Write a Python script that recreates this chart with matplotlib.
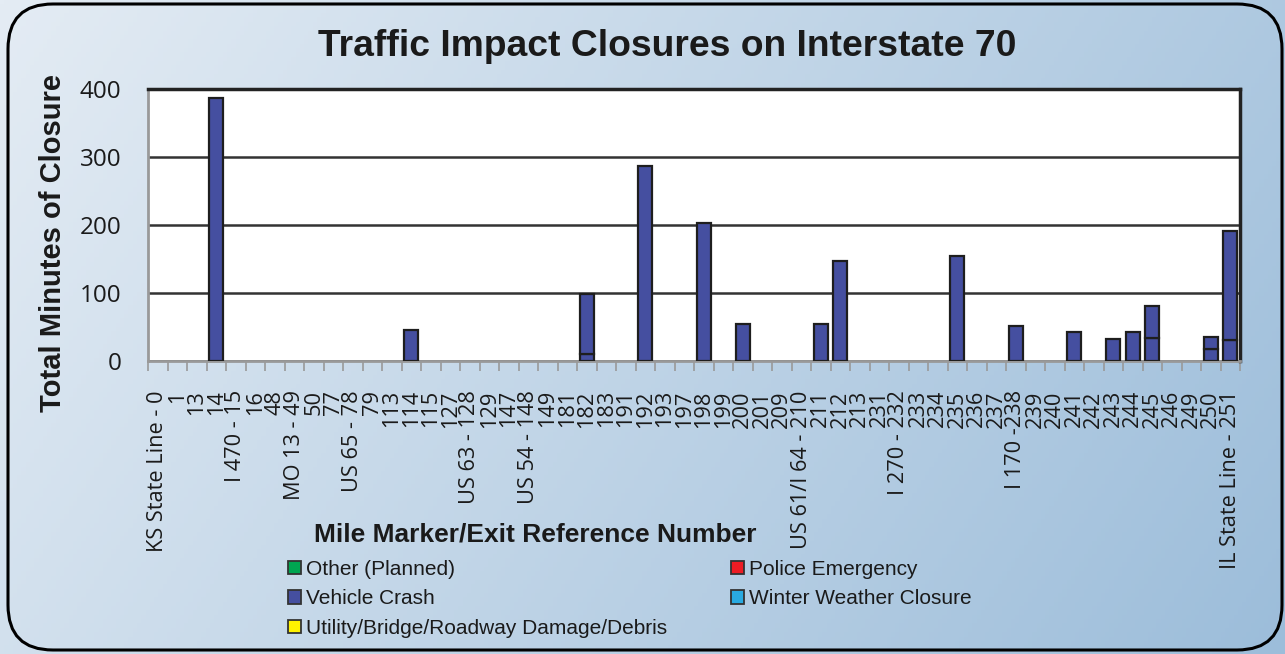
import numpy as np
import matplotlib
matplotlib.use("Agg")
import matplotlib.pyplot as plt
from matplotlib.patches import FancyBboxPatch, Patch

# ---------------- data ----------------
categories = ["KS State Line - 0", "1", "13", "14", "I 470 - 15", "16", "48", "MO 13 - 49", "50", "77",
              "US 65 - 78", "79", "113", "114", "115", "127", "US 63 - 128", "129", "147", "US 54 - 148",
              "149", "181", "182", "183", "191", "192", "193", "197", "198", "199",
              "200", "201", "209", "US 61/I 64 - 210", "211", "212", "213", "231", "I 270 - 232", "233",
              "234", "235", "236", "237", "I 170 -238", "239", "240", "241", "242", "243",
              "244", "245", "246", "249", "250", "IL State Line - 251"]

n = len(categories)
crash_lower = [0] * n
crash_upper = [0] * n
crash_values = {"14": 387, "114": 45, "182": 10, "192": 287, "198": 203, "200": 54,
                "211": 54, "212": 147, "235": 154, "I 170 -238": 52, "241": 42, "243": 33,
                "244": 43, "245": 34, "250": 18, "IL State Line - 251": 31}
crash_extra = {"182": 88, "245": 47, "250": 17, "IL State Line - 251": 160}
for k, v in crash_values.items():
    crash_lower[categories.index(k)] = v
for k, v in crash_extra.items():
    crash_upper[categories.index(k)] = v

other_planned = [0] * n
police_emergency = [0] * n
winter_weather = [0] * n
utility_damage = [0] * n

series_names = ["Other (Planned)", "Vehicle Crash", "Utility/Bridge/Roadway Damage/Debris",
                "Police Emergency", "Winter Weather Closure"]
series_colors = ["#00a651", "#454fa0", "#fff200", "#ed1c24", "#29aae1"]
y_ticks = [0, 100, 200, 300, 400]

# ---------------- figure ----------------
W, H = 1285, 654
fig = plt.figure(figsize=(W / 100, H / 100), dpi=100)
fig.patch.set_facecolor("white")

# gradient background
bg = fig.add_axes([0, 0, 1, 1], zorder=-10)
gx = np.linspace(0, 1, 300)
gy = np.linspace(0, 1, 150)
X, Y = np.meshgrid(gx, gy)
t = np.clip(0.75 * X + 0.25 * Y, 0, 1)
c0 = np.array([0xe4, 0xec, 0xf4]) / 255
c1 = np.array([0x9c, 0xbd, 0xda]) / 255
img = c0[None, None, :] * (1 - t[..., None]) + c1[None, None, :] * t[..., None]
bg.imshow(img, extent=[0, 1, 0, 1], aspect="auto", origin="upper")
bg.set_xlim(0, 1)
bg.set_ylim(0, 1)
bg.axis("off")
frame = FancyBboxPatch((8 / W, 4 / H), (1282 - 8) / W, (650 - 4) / H,
                       boxstyle="round,pad=0,rounding_size=0.035", transform=bg.transAxes,
                       fill=False, edgecolor="black", linewidth=2.2, zorder=5,
                       mutation_aspect=W / H)
bg.add_patch(frame)

# plot axes
left, right, top, bottom = 148, 1240, 89, 361
ax = fig.add_axes([left / W, 1 - bottom / H, (right - left) / W, (bottom - top) / H])
ax.set_facecolor("white")
x = np.arange(n)
bw = 0.7

def draw(vals, base, color):
    vals = np.array(vals, dtype=float)
    base = np.array(base, dtype=float)
    m = vals > 0
    if m.any():
        ax.bar(x[m], vals[m], bottom=base[m], width=bw, color=color,
               edgecolor="#1e1e1e", linewidth=1.6, zorder=3)

zero = np.zeros(n)
draw(other_planned, zero, series_colors[0])
draw(crash_lower, zero, series_colors[1])
draw(crash_upper, np.array(crash_lower), series_colors[1])
draw(utility_damage, zero, series_colors[2])
draw(police_emergency, zero, series_colors[3])
draw(winter_weather, zero, series_colors[4])

ax.set_xlim(-0.5, n - 0.5)
ax.set_ylim(0, 400)
ax.set_yticks(y_ticks)
ax.yaxis.grid(True, color="#333333", linewidth=1.8, zorder=0)
ax.set_axisbelow(True)
ax.set_xticks(x)
ax.set_xticklabels(categories, rotation=90, fontsize=15.7, family="Open Sans", color="#1a1a1a")
ax.set_xticks(np.arange(n + 1) - 0.5, minor=True)
ax.tick_params(axis="x", which="major", length=0, pad=21)
ax.tick_params(axis="x", which="minor", length=7, color="#999999", width=1.2)
ax.tick_params(axis="y", length=0, pad=19, labelsize=17.5, labelcolor="#1a1a1a")
for lab in ax.get_yticklabels():
    lab.set_family("Open Sans")
for s in ["top", "right"]:
    ax.spines[s].set_color("#222222")
    ax.spines[s].set_linewidth(2.5)
for s in ["left", "bottom"]:
    ax.spines[s].set_color("#999999")
    ax.spines[s].set_linewidth(2)

fig.text(667 / W, 1 - 47 / H, "Traffic Impact Closures on Interstate 70", ha="center", va="center",
         fontsize=26.8, fontweight="bold", family="Liberation Sans", color="#1a1a1a")
fig.text(53 / W, 1 - 243 / H, "Total Minutes of Closure", ha="center", va="center", rotation=90,
         fontsize=21, fontweight="bold", family="Liberation Sans", color="#1a1a1a")
fig.text(535 / W, 1 - 534 / H, "Mile Marker/Exit Reference Number", ha="center", va="center",
         fontsize=19, fontweight="bold", family="Liberation Sans", color="#1a1a1a")

handles = [Patch(facecolor=c, edgecolor="#333333", linewidth=1.3) for c in series_colors]
common = dict(loc="upper left", frameon=False,
              prop={"family": "Liberation Sans", "size": 15},
              handlelength=0.62, handleheight=0.62, handletextpad=0.25,
              labelspacing=0.5, borderaxespad=0, borderpad=0)
leg1 = fig.legend(handles[:3], series_names[:3], bbox_to_anchor=(288 / W, 1 - 560 / H), **common)
for tx in leg1.get_texts():
    tx.set_color("#1a1a1a")
leg2 = fig.legend(handles[3:], series_names[3:], bbox_to_anchor=(731 / W, 1 - 560 / H), **common)
for tx in leg2.get_texts():
    tx.set_color("#1a1a1a")

fig.savefig("out.png", dpi=100)
